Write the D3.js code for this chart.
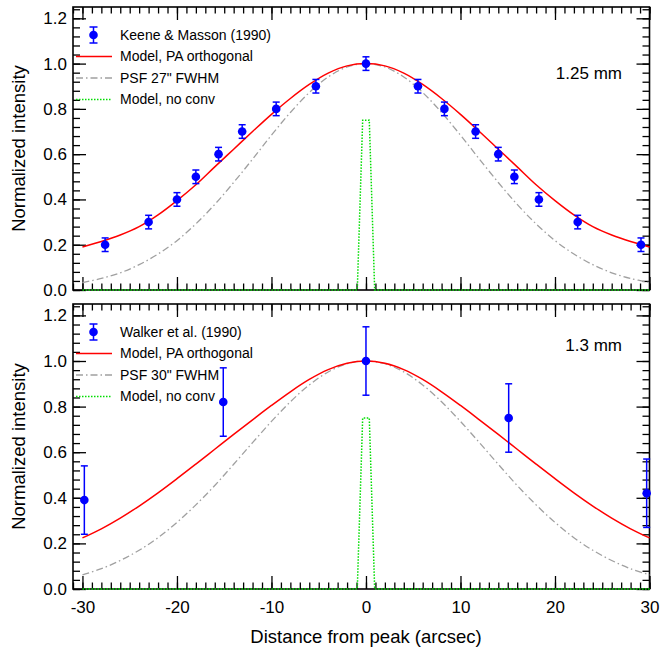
<!DOCTYPE html>
<html><head><meta charset="utf-8">
<script src="https://cdn.jsdelivr.net/npm/d3@7"></script>
<style>body{margin:0;background:#fff}svg{display:block}text{font-family:"Liberation Sans",Arial,sans-serif}</style>
</head><body>
<script>
// ---- data ----
const curveX = [-30,-28,-26,-24,-22,-20,-18,-16,-14,-12,-10,-8,-6,-4,-2,0,2,4,6,8,10,12,14,16,18,20,22,24,26,28,30];
const modelTop = [0.19,0.214,0.243,0.28,0.332,0.395,0.465,0.544,0.622,0.70,0.776,0.846,0.908,0.958,0.99,1.0,0.99,0.958,0.908,0.846,0.776,0.70,0.622,0.544,0.465,0.395,0.332,0.28,0.243,0.214,0.19];
const psfTop = [0.033,0.051,0.076,0.112,0.159,0.218,0.292,0.378,0.475,0.578,0.684,0.784,0.872,0.941,0.985,1.0,0.985,0.941,0.872,0.784,0.684,0.578,0.475,0.378,0.292,0.218,0.159,0.112,0.076,0.051,0.033];
const modelBot = [0.224,0.264,0.311,0.364,0.422,0.484,0.548,0.613,0.678,0.742,0.805,0.865,0.919,0.962,0.99,1.0,0.99,0.962,0.919,0.865,0.805,0.742,0.678,0.613,0.548,0.484,0.422,0.364,0.311,0.264,0.224];
const psfBot = [0.062,0.089,0.125,0.17,0.225,0.292,0.369,0.454,0.547,0.642,0.735,0.821,0.895,0.952,0.988,1.0,0.988,0.952,0.895,0.821,0.735,0.642,0.547,0.454,0.369,0.292,0.225,0.17,0.125,0.089,0.062];
const noconvX = [-30,-0.92,-0.35,0.35,0.92,30];
const noconvY = [0,0,0.75,0.75,0,0];
const kmX = [-27.6,-23.0,-20.0,-18.0,-15.6,-13.1,-9.5,-5.3,0,5.5,8.3,11.6,14.0,15.7,18.3,22.4,29.1];
const kmY = [0.20,0.30,0.40,0.50,0.60,0.70,0.80,0.90,1.00,0.90,0.80,0.70,0.60,0.50,0.40,0.30,0.20];
const kmErr = [0.03,0.03,0.03,0.03,0.03,0.03,0.03,0.03,0.03,0.03,0.03,0.03,0.03,0.03,0.03,0.03,0.03];
const wkX = [-29.8,-15.1,0,15.1,29.7];
const wkY = [0.39,0.82,1.00,0.75,0.42];
const wkErr = [0.15,0.15,0.15,0.15,0.15];
const xMajor = [-30,-20,-10,0,10,20,30];
const yMajor = [0,0.2,0.4,0.6,0.8,1.0,1.2];
const legendTop = ["Keene & Masson (1990)","Model, PA orthogonal","PSF 27\" FWHM","Model, no conv"];
const legendBot = ["Walker et al. (1990)","Model, PA orthogonal","PSF 30\" FWHM","Model, no conv"];
const bandTop = "1.25 mm", bandBot = "1.3 mm";

// ---- drawing ----
const W=660,H=654;
const svg=d3.select("body").append("svg").attr("width",W).attr("height",H);
const L=73,R=649.5;
const x=d3.scaleLinear().domain([-31,30]).range([L,R]);
const xMinor=d3.range(-31,30.5,1);
const yMinor=d3.range(0,1.2501,0.04);
const RED="#ff0000",GRAY="#a0a0a0",GREEN="#00dd00",BLUE="#0000ff";
const grayDash="7,3,1.5,3", greenDash="1.5,1.5";

const panels=[
 {top:7,bottom:290,model:modelTop,psf:psfTop,px:kmX,py:kmY,pe:kmErr,legend:legendTop,band:bandTop,bandY:79,xlabels:false},
 {top:304,bottom:589,model:modelBot,psf:psfBot,px:wkX,py:wkY,pe:wkErr,legend:legendBot,band:bandBot,bandY:351,xlabels:true}
];

panels.forEach(p=>{
  const y=d3.scaleLinear().domain([0,1.25]).range([p.bottom,p.top]);
  const g=svg.append("g");
  const ax=(axis,tr)=>{const a=g.append("g").attr("transform",tr).call(axis);a.select(".domain").remove();a.selectAll("line").attr("stroke","#000").attr("stroke-width",1.3);return a;};
  // minor ticks
  ax(d3.axisBottom(x).tickValues(xMinor).tickSize(-6.5).tickFormat(""),`translate(0,${p.bottom})`);
  ax(d3.axisTop(x).tickValues(xMinor).tickSize(-6.5).tickFormat(""),`translate(0,${p.top})`);
  ax(d3.axisLeft(y).tickValues(yMinor).tickSize(-7).tickFormat(""),`translate(${L},0)`);
  ax(d3.axisRight(y).tickValues(yMinor).tickSize(-7).tickFormat(""),`translate(${R},0)`);
  // major ticks
  const xb=ax(d3.axisBottom(x).tickValues(xMajor).tickSize(-13).tickPadding(12).tickFormat(p.xlabels?(d=>String(d)):""),`translate(0,${p.bottom})`);
  ax(d3.axisTop(x).tickValues(xMajor).tickSize(-13).tickFormat(""),`translate(0,${p.top})`);
  const yl=ax(d3.axisLeft(y).tickValues(yMajor).tickSize(-13).tickPadding(6).tickFormat(d3.format(".1f")),`translate(${L},0)`);
  ax(d3.axisRight(y).tickValues(yMajor).tickSize(-13).tickFormat(""),`translate(${R},0)`);
  [xb,yl].forEach(a=>a.selectAll("text").attr("font-size",17).attr("fill","#000").attr("font-family",'"Liberation Sans",Arial,sans-serif'));
  // frame
  g.append("rect").attr("x",L).attr("y",p.top).attr("width",R-L).attr("height",p.bottom-p.top)
    .attr("fill","none").attr("stroke","#000").attr("stroke-width",1.6);
  // curves
  const line=d3.line().x(d=>x(d[0])).y(d=>y(d[1])).curve(d3.curveCatmullRom);
  g.append("path").attr("d",line(curveX.map((v,i)=>[v,p.psf[i]]))).attr("fill","none").attr("stroke",GRAY).attr("stroke-width",1.3).attr("stroke-dasharray",grayDash);
  g.append("path").attr("d",d3.line().x(d=>x(d[0])).y(d=>y(d[1]))(noconvX.map((v,i)=>[v,noconvY[i]]))).attr("fill","none").attr("stroke",GREEN).attr("stroke-width",1.5).attr("stroke-dasharray",greenDash);
  g.append("path").attr("d",line(curveX.map((v,i)=>[v,p.model[i]]))).attr("fill","none").attr("stroke",RED).attr("stroke-width",1.5);
  // points
  const pts=p.px.map((v,i)=>({x:v,y:p.py[i],e:p.pe[i]}));
  const pg=g.append("g").selectAll("g").data(pts).join("g");
  pg.append("line").attr("x1",d=>x(d.x)).attr("x2",d=>x(d.x)).attr("y1",d=>y(d.y-d.e)).attr("y2",d=>y(d.y+d.e)).attr("stroke",BLUE).attr("stroke-width",1.5);
  pg.append("line").attr("x1",d=>x(d.x)-3.5).attr("x2",d=>x(d.x)+3.5).attr("y1",d=>y(d.y-d.e)).attr("y2",d=>y(d.y-d.e)).attr("stroke",BLUE).attr("stroke-width",1.5);
  pg.append("line").attr("x1",d=>x(d.x)-3.5).attr("x2",d=>x(d.x)+3.5).attr("y1",d=>y(d.y+d.e)).attr("y2",d=>y(d.y+d.e)).attr("stroke",BLUE).attr("stroke-width",1.5);
  pg.append("circle").attr("cx",d=>x(d.x)).attr("cy",d=>y(d.y)).attr("r",4.3).attr("fill",BLUE);
  // legend
  const ly=i=>p.top+28+i*21.5;
  const lg=g.append("g");
  lg.append("line").attr("x1",93.5).attr("x2",93.5).attr("y1",ly(0)-8).attr("y2",ly(0)+8).attr("stroke",BLUE).attr("stroke-width",1.5);
  [-8,8].forEach(o=>lg.append("line").attr("x1",89.5).attr("x2",97.5).attr("y1",ly(0)+o).attr("y2",ly(0)+o).attr("stroke",BLUE).attr("stroke-width",1.5));
  lg.append("circle").attr("cx",93.5).attr("cy",ly(0)).attr("r",4.3).attr("fill",BLUE);
  lg.append("line").attr("x1",76).attr("x2",112).attr("y1",ly(1)).attr("y2",ly(1)).attr("stroke",RED).attr("stroke-width",1.5);
  lg.append("line").attr("x1",76).attr("x2",112).attr("y1",ly(2)).attr("y2",ly(2)).attr("stroke",GRAY).attr("stroke-width",1.3).attr("stroke-dasharray",grayDash);
  lg.append("line").attr("x1",76).attr("x2",112).attr("y1",ly(3)).attr("y2",ly(3)).attr("stroke",GREEN).attr("stroke-width",1.5).attr("stroke-dasharray",greenDash);
  p.legend.forEach((t,i)=>lg.append("text").attr("x",120).attr("y",ly(i)).attr("dy","0.35em").attr("font-size",14).text(t));
  // band label
  g.append("text").attr("x",622).attr("y",p.bandY).attr("text-anchor","end").attr("font-size",17).text(p.band);
  // y title
  g.append("text").attr("transform",`translate(25,${(p.top+p.bottom)/2}) rotate(-90)`).attr("text-anchor","middle").attr("font-size",18.5).text("Normalized intensity");
});
svg.append("text").attr("x",x(0)).attr("y",643).attr("text-anchor","middle").attr("font-size",18.5).text("Distance from peak (arcsec)");
</script>
</body></html>
